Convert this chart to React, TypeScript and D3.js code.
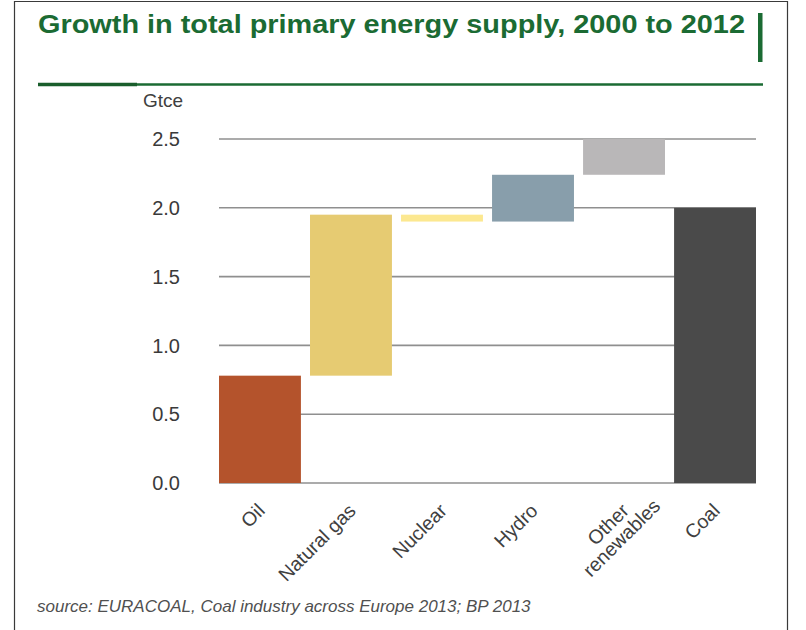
import React, { useEffect, useRef } from "react";
import * as d3 from "d3";

const categories = ["Oil", "Natural gas", "Nuclear", "Hydro", "Other renewables", "Coal"];
const categoryLines = [["Oil"], ["Natural gas"], ["Nuclear"], ["Hydro"], ["Other", "renewables"], ["Coal"]];
const changes = [0.78, 1.17, -0.05, 0.34, 0.26, 2.0];
const isTotal = [false, false, false, false, false, true];
const barColors = ["#b4532c", "#e6cb72", "#fce890", "#889eab", "#b9b7b8", "#4a4a4a"];
const yTicks = [0, 0.5, 1.0, 1.5, 2.0, 2.5];
const titleText = "Growth in total primary energy supply, 2000 to 2012";
const unitLabel = "Gtce";
const sourceText = "source: EURACOAL, Coal industry across Europe 2013; BP 2013";

const W = 806;
const H = 630;
const FONT = "'Liberation Sans', Arial, Helvetica, sans-serif";
const GREEN = "#1b6b33";

export default function App() {
  const ref = useRef<SVGSVGElement | null>(null);

  useEffect(() => {
    const svg = d3.select(ref.current);
    svg.selectAll("*").remove();

    // waterfall bars
    let running = 0;
    const bars = categories.map((c, i) => {
      let lo: number, hi: number;
      if (isTotal[i]) {
        lo = 0;
        hi = changes[i];
      } else {
        const start = running;
        running += changes[i];
        lo = Math.min(start, running);
        hi = Math.max(start, running);
      }
      return { c, lo, hi, color: barColors[i], lines: categoryLines[i] };
    });

    const x = d3.scaleBand<string>().domain(categories).range([219, 756]).paddingInner(0.1).paddingOuter(0);
    const y = d3.scaleLinear().domain([0, 2.5]).range([483, 139]);

    svg.append("rect").attr("x", 0).attr("y", 0).attr("width", W).attr("height", H).attr("fill", "#fff");

    // frame
    const frame = svg.append("g").attr("stroke", "#3a3a3a").attr("stroke-width", 1.2).attr("fill", "none");
    frame.append("path").attr("d", `M14.5,${H} V1.5 H787.5 V${H}`);

    // title
    svg
      .append("text")
      .attr("x", 38)
      .attr("y", 33)
      .attr("font-family", FONT)
      .attr("font-weight", "bold")
      .attr("font-size", 25)
      .attr("fill", GREEN)
      .attr("textLength", 707)
      .attr("lengthAdjust", "spacingAndGlyphs")
      .text(titleText);

    svg.append("rect").attr("x", 758).attr("y", 13).attr("width", 4.5).attr("height", 49).attr("fill", GREEN);
    svg.append("line").attr("x1", 38).attr("x2", 763).attr("y1", 84.5).attr("y2", 84.5).attr("stroke", GREEN).attr("stroke-width", 2.5);
    svg.append("line").attr("x1", 38).attr("x2", 137).attr("y1", 84.5).attr("y2", 84.5).attr("stroke", "#1a5e2c").attr("stroke-width", 3.5);

    // unit
    svg
      .append("text")
      .attr("x", 143)
      .attr("y", 106.5)
      .attr("font-family", FONT)
      .attr("font-size", 19)
      .attr("fill", "#404040")
      .text(unitLabel);

    // grid
    svg
      .append("g")
      .selectAll("line")
      .data(yTicks)
      .join("line")
      .attr("x1", 219)
      .attr("x2", 756)
      .attr("y1", (d) => y(d))
      .attr("y2", (d) => y(d))
      .attr("stroke", "#8f8f8f")
      .attr("stroke-width", 1.6);

    // y tick labels
    svg
      .append("g")
      .selectAll("text")
      .data(yTicks)
      .join("text")
      .attr("x", 180)
      .attr("y", (d) => y(d))
      .attr("dy", "0.36em")
      .attr("text-anchor", "end")
      .attr("font-family", FONT)
      .attr("font-size", 20)
      .attr("fill", "#3a3a3a")
      .text((d) => d3.format(".1f")(d));

    // bars
    svg
      .append("g")
      .selectAll("rect")
      .data(bars)
      .join("rect")
      .attr("x", (d) => x(d.c)!)
      .attr("width", x.bandwidth())
      .attr("y", (d) => y(d.hi))
      .attr("height", (d) => y(d.lo) - y(d.hi))
      .attr("fill", (d) => d.color);

    // x labels
    const lh = 19;
    bars.forEach((b) => {
      const cx = x(b.c)! + x.bandwidth() / 2;
      const g = svg.append("g").attr("transform", `translate(${cx + 6},512) rotate(-45)`);
      const texts = b.lines.map((ln, j) =>
        g
          .append("text")
          .attr("text-anchor", "end")
          .attr("font-family", FONT)
          .attr("font-size", 19.5)
          .attr("fill", "#404040")
          .attr("y", j * lh)
          .text(ln)
      );
      const widths = texts.map((t) => (t.node() as SVGTextElement).getComputedTextLength());
      texts.forEach((t, j) => t.attr("x", (widths[j] - widths[0]) / 2));
    });

    // source
    svg
      .append("text")
      .attr("x", 37)
      .attr("y", 612)
      .attr("font-family", FONT)
      .attr("font-style", "italic")
      .attr("font-size", 17)
      .attr("fill", "#505050")
      .text(sourceText);
  }, []);

  return (
    <svg
      ref={ref}
      width={W}
      height={H}
      style={{ position: "absolute", left: 0, top: 0, display: "block" }}
    />
  );
}
